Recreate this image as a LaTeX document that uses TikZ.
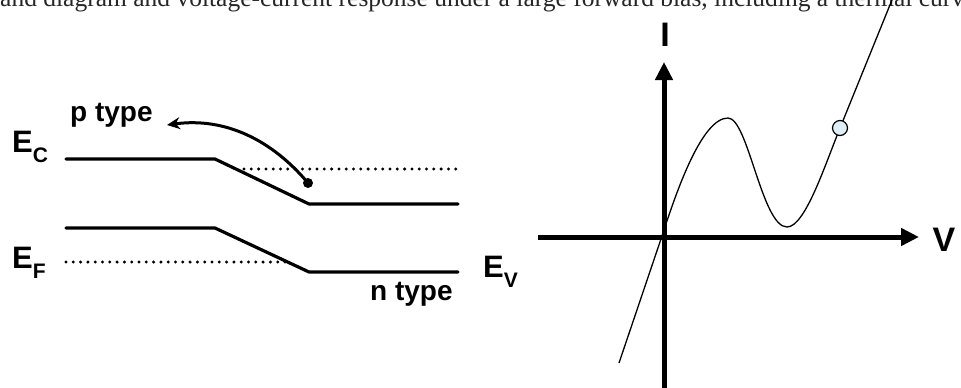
\documentclass[tikz,border=0pt]{standalone}
\usepackage{fontspec}
\setmainfont{Liberation Sans}
\newfontfamily\capfont{Liberation Serif}
\usetikzlibrary{arrows.meta}
\definecolor{dotblue}{HTML}{DDF0F8}
\tikzset{
  band/.style={line width=3.2pt, line cap=round, line join=round},
  fermi/.style={line width=3.3pt, line cap=round, dash pattern=on 0pt off 7.3pt},
  axis/.style={line width=5pt, -{Triangle[length=18pt,width=17pt]}},
  curve/.style={line width=1.3pt},
  lbl/.style={font=\fontsize{31}{31}\selectfont\bfseries, inner sep=0pt, anchor=base west},
  typelbl/.style={font=\fontsize{28}{28}\selectfont\bfseries, inner sep=0pt, anchor=base west},
  axlbl/.style={font=\fontsize{34}{34}\selectfont\bfseries, inner sep=0pt},
}
\newcommand{\sublbl}[1]{\raisebox{-10pt}{\fontsize{21}{21}\selectfont #1}}
\begin{document}
\begin{tikzpicture}[x=1pt,y=-1pt]
\useasboundingbox (0,0) rectangle (961,388);
% partly visible caption line
\begin{scope}
\clip (0,0) rectangle (961,388);
\node[inner sep=0pt, anchor=base west, font=\capfont\fontsize{25.5}{25.5}\selectfont, text=black!85] (cap) at (-17,6) {Band diagram and voltage-current response under a large forward bias, including a thermal curve};
\end{scope}
% ---------- band diagram ----------
\coordinate (c1) at (66,159);
\coordinate (c2) at (215,159);
\coordinate (c3) at (309,204);
\coordinate (c4) at (458,204);
\draw[band] (c1) -- (c2) -- (c3) -- (c4);
\coordinate (v1) at (66,228);
\coordinate (v2) at (215,228);
\coordinate (v3) at (309,272);
\coordinate (v4) at (458,272);
\draw[band] (v1) -- (v2) -- (v3) -- (v4);
\coordinate (q1) at (244,169);
\coordinate (q2) at (456,169);
\draw[fermi] (q1) -- (q2);
\coordinate (f1) at (66,262);
\coordinate (f2) at (287,262);
\draw[fermi] (f1) -- (f2);
\node[circle, fill=black, inner sep=0pt, minimum size=10pt] (e) at (308,183) {};
\coordinate (tip) at (167,125);
\draw[line width=3pt, -{Stealth[length=13pt,width=12pt]}] (e.center) .. controls (272,140) and (225,117) .. (tip);
\node[typelbl] (pt) at (70,121) {p type};
\node[typelbl] (nt) at (370,300) {n type};
\node[lbl] (ec) at (12,152) {E\sublbl{C}};
\node[lbl] (ef) at (12,268) {E\sublbl{F}};
\node[lbl] (ev) at (483,277) {E\sublbl{V}};
% ---------- I-V plot ----------
\coordinate (ybot) at (664,390);
\coordinate (ytop) at (664,62);
\coordinate (xl) at (538,237);
\coordinate (xr) at (919,237);
\draw[axis] (ybot) -- (ytop);
\draw[axis] (xl) -- (xr);
\node[axlbl] (I) at (665,35) {I};
\node[axlbl] (V) at (944,240) {V};
\coordinate (s0) at (619,363);
\coordinate (s1) at (663,233);
\coordinate (mx) at (728,118);
\coordinate (mn) at (787,227);
\coordinate (pt2) at (840,128);
\coordinate (s5) at (894,-5);
\draw[curve] (s0) -- (s1) .. controls (677,190) and (702,118) .. (mx)
  .. controls (748,118) and (762,227) .. (mn)
  .. controls (805,227) and (825,165) .. (pt2) -- (s5);
\node[circle, draw=black, line width=1.2pt, fill=dotblue, minimum size=15pt, inner sep=0pt] (op) at (pt2) {};
\end{tikzpicture}
\end{document}
